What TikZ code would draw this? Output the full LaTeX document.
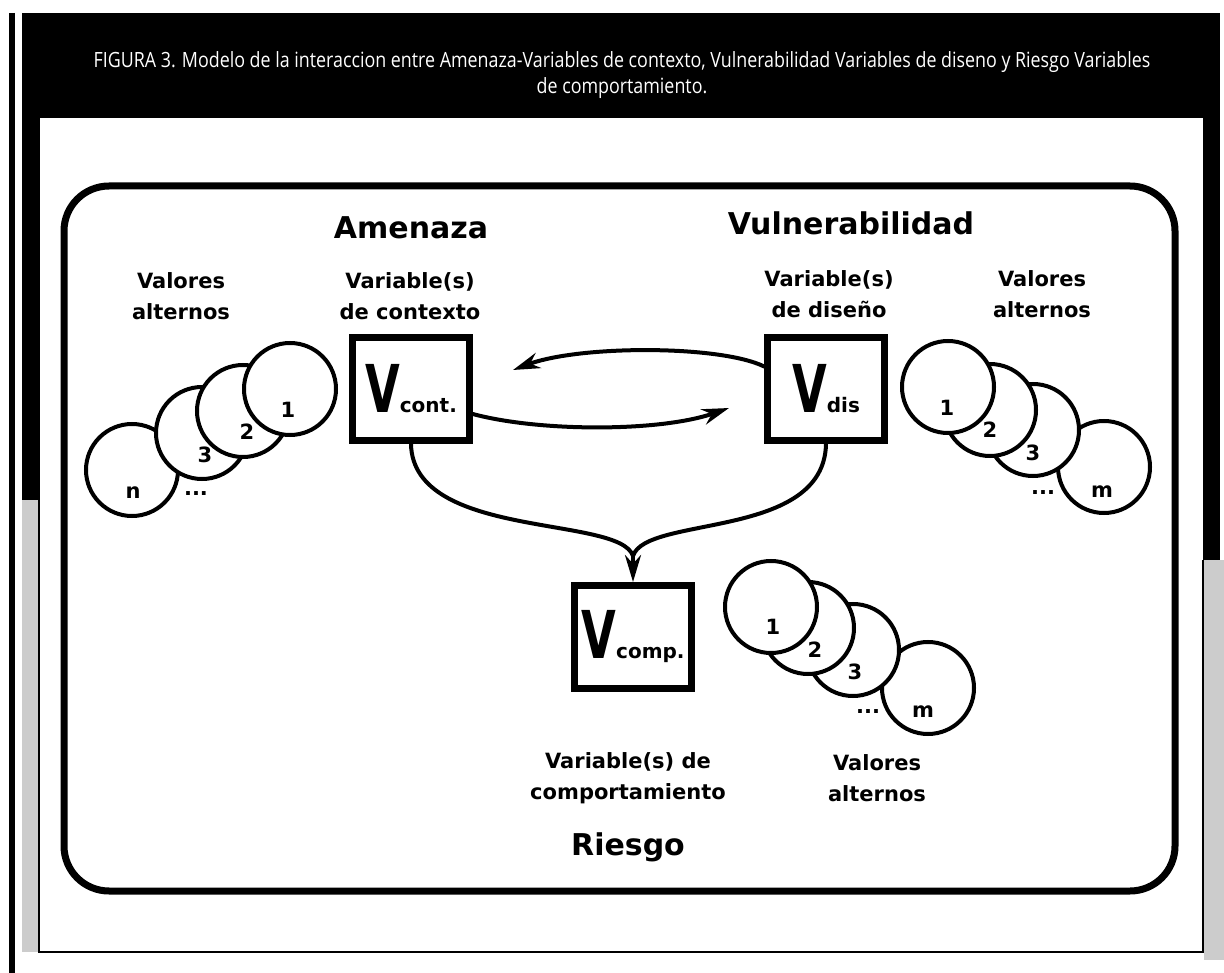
\documentclass[tikz,border=0pt]{standalone}
\usepackage{fontspec}
\setmainfont{DejaVu Sans}
\newfontfamily\capfont{Open Sans}[FakeStretch=0.85]
\usepackage{graphicx}
\usepackage{tikz}
\usetikzlibrary{arrows.meta}
\usetikzlibrary{calc}
\usetikzlibrary{positioning}

\newcommand{\vname}[1]{\bfseries\scalebox{0.68}[1]{\fontsize{66pt}{66pt}\selectfont V}{\fontsize{20pt}{20pt}\selectfont #1}}

\begin{document}
\begin{tikzpicture}[x=1pt,y=-1pt,
    title/.style={font=\fontsize{30pt}{30pt}\selectfont\bfseries},
    lbl/.style={align=center,font=\fontsize{21pt}{31pt}\selectfont\bfseries},
    var/.style={draw,line width=7pt,minimum width=117pt,minimum height=103pt,inner sep=0pt},
    val/.style={draw,circle,fill=white,line width=4pt,minimum size=92pt,inner sep=0pt},
    num/.style={font=\fontsize{21pt}{21pt}\selectfont\bfseries,inner sep=0pt},
    conn/.style={line width=4pt,line cap=round},
    >={Stealth[length=27pt,width=16pt]}]

  \useasboundingbox (0,0) rectangle (1224,973);

  % frame of the page
  \fill (22,13) rectangle (1220,118);
  \fill (22,118) rectangle (40,500);
  \fill (1203,118) rectangle (1220,560);
  \fill [gray!40] (22,500) rectangle (38,952);
  \fill [gray!40] (1204,560) rectangle (1224,960);
  \draw [line width=6pt] (12,13) -- (12,973);
  \draw [line width=1.5pt] (39,500) -- (39,952) -- (1203,952) -- (1203,560);

  \node [text=white,font=\capfont\fontsize{21pt}{26pt}\selectfont,align=center] (caption) at (622,75)
    {FIGURA 3. Modelo de la interaccion entre Amenaza-Variables de contexto, Vulnerabilidad Variables de diseno y Riesgo Variables\\de comportamiento.};

  \draw [line width=7pt,rounded corners=45pt] (64,186) rectangle (1175,891);

  % variables
  \node [var] (vcont) at (411,389) {\vname{cont.}};
  \node [var] (vdis)  at (826,389) {\vname{dis}};
  \node [var] (vcomp) at (633,637) {\vname{comp.}};

  \node [title] (amenaza) at (411,228) {Amenaza};
  \node [title] (vuln) at (851,223) {Vulnerabilidad};
  \node [title] (riesgo) at (628,847) {Riesgo};

  \node [lbl] (contlab) at (410,296) {Variable(s)\\de contexto};
  \node [lbl] (dislab) at (829,294) {Variable(s)\\de diseño};
  \node [lbl] (complab) at (628,778) {Variable(s) de\\comportamiento};
  \node [lbl] (valn) at (181,296) {Valores\\alternos};
  \node [lbl] (valm) at (1042,294) {Valores\\alternos};
  \node [lbl] (valc) at (877,778) {Valores\\alternos};

  % alternative values, context
  \node [val] (cn) at (132,470) {};
  \node [val] (c3) at (202,433) {};
  \node [val] (c2) at (243,411) {};
  \node [val] (c1) at (290,389) {};
  \node [num] (cnlab) at (133,493) {n};
  \node [num] (c3lab) at (205,455) {3};
  \node [num] (c2lab) at (247,432) {2};
  \node [num] (c1lab) at (288,410) {1};
  \node [num] (cdots) at (196,494) {...};

  % alternative values, design
  \node [val] (dm) at (1104,467) {};
  \node [val] (d3) at (1033,430) {};
  \node [val] (d2) at (990,410) {};
  \node [val] (d1) at (948,387) {};
  \node [num] (dmlab) at (1102,492) {m};
  \node [num] (d3lab) at (1033,453) {3};
  \node [num] (d2lab) at (990,430) {2};
  \node [num] (d1lab) at (947,408) {1};
  \node [num] (ddots) at (1043,493) {...};

  % alternative values, behaviour
  \node [val] (bm) at (928,688) {};
  \node [val] (b3) at (853,650) {};
  \node [val] (b2) at (808,628) {};
  \node [val] (b1) at (771,607) {};
  \node [num] (bmlab) at (923,712) {m};
  \node [num] (b3lab) at (855,672) {3};
  \node [num] (b2lab) at (815,650) {2};
  \node [num] (b1lab) at (773,627) {1};
  \node [num] (bdots) at (868,712) {...};

  \coordinate (toleft) at (513,370);
  \coordinate (toright) at (729,408);
  \coordinate (join) at (633,556);

  \draw [conn,->] (vdis.160) .. controls (720,345) and (580,345) .. (toleft);
  \draw [conn,->] (vcont.-22) .. controls (540,432) and (660,432) .. (toright);
  \draw [conn] (vcont.south) .. controls (413,540) and (620,515) .. (join);
  \draw [conn] (vdis.south) .. controls (824,540) and (646,515) .. (join);
  \draw [conn,->] (join) -- (vcomp.north);

\end{tikzpicture}
\end{document}
